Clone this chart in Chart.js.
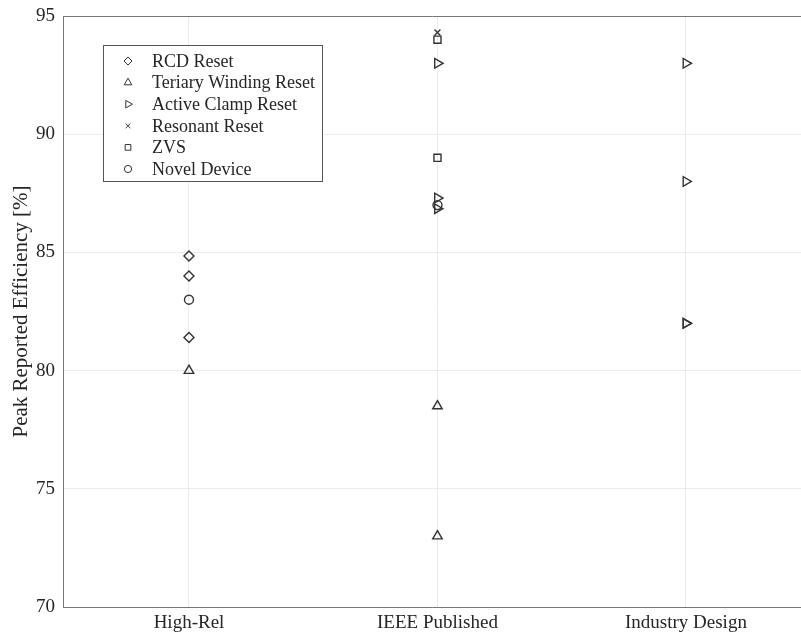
<!DOCTYPE html>
<html>
<head>
<meta charset="utf-8">
<script src="https://cdn.jsdelivr.net/npm/chart.js@4.4.1/dist/chart.umd.min.js"></script>
<style>
  html, body { margin: 0; padding: 0; background: #fff; overflow: hidden; }
  #wrap { width: 801px; height: 635px; position: relative; }
</style>
</head>
<body>
<div id="wrap"><canvas id="efficiencyChart"></canvas></div>
<script>
// categories on the x axis
const categories = ['High-Rel', 'IEEE Published', 'Industry Design'];
const yTicks = [70, 75, 80, 85, 90, 95];

// values per category: [High-Rel], [IEEE Published], [Industry Design]
const rcdReset = [[84.85, 84.0, 81.4], [], []];
const tertiaryReset = [[80.0], [78.5, 73.0], []];
const activeClampReset = [[], [93.0, 87.3, 86.85], [93.0, 88.0, 82.0, 82.0]];
const resonantReset = [[], [94.3], []];
const zvsReset = [[], [94.0, 89.0], []];
const novelDevice = [[83.0], [87.0], []];

const seriesLabels = ['RCD Reset', 'Teriary Winding Reset', 'Active Clamp Reset', 'Resonant Reset', 'ZVS', 'Novel Device'];

const serifFont = "'Liberation Serif', 'Times New Roman', serif";
const textColor = '#262626';
const markerColor = '#333333';

function toPoints(values) {
    return values.flatMap((list, i) => list.map(v => ({ x: i + 1, y: v })));
}

const markers = [
    { pointStyle: 'rectRot', rotation: 0, radius: 5 },
    { pointStyle: 'triangle', rotation: 0, radius: 5.5 },
    { pointStyle: 'triangle', rotation: 90, radius: 5.5 },
    { pointStyle: 'crossRot', rotation: 0, radius: 4.2 },
    { pointStyle: 'rect', rotation: 0, radius: 5 },
    { pointStyle: 'circle', rotation: 0, radius: 4.5 }
];

const seriesValues = [rcdReset, tertiaryReset, activeClampReset, resonantReset, zvsReset, novelDevice];

const datasets = seriesValues.map((vals, i) => ({
    label: seriesLabels[i],
    data: toPoints(vals),
    pointStyle: markers[i].pointStyle,
    rotation: markers[i].rotation,
    pointRadius: markers[i].radius,
    pointHoverRadius: markers[i].radius,
    borderColor: markerColor,
    backgroundColor: 'rgba(0,0,0,0)',
    pointBorderWidth: 1.4,
    showLine: false
}));

//Legend drawn inside the plot box
const boxLegend = {
    id: 'boxLegend',
    afterDraw(chart) {
        const ctx = chart.ctx;
        const area = chart.chartArea;
        const bx = area.left + 40, by = area.top + 29, bw = 219, bh = 136;
        ctx.save();
        ctx.fillStyle = '#fff';
        ctx.fillRect(bx, by, bw, bh);
        ctx.strokeStyle = '#555';
        ctx.lineWidth = 1;
        ctx.strokeRect(bx + 0.5, by + 0.5, bw, bh);
        chart.data.datasets.forEach((ds, i) => {
            const y = by + 16 + i * 21.6;
            ctx.strokeStyle = markerColor;
            ctx.fillStyle = 'rgba(0,0,0,0)';
            Chart.helpers.drawPoint(ctx, {
                pointStyle: ds.pointStyle,
                rotation: ds.rotation,
                radius: ds.pointRadius * 0.8,
                borderWidth: 1.4
            }, bx + 25, y);
            ctx.fillStyle = textColor;
            ctx.font = '18px ' + serifFont;
            ctx.textBaseline = 'middle';
            ctx.textAlign = 'left';
            ctx.fillText(ds.label, bx + 49, y + 1);
        });
        ctx.restore();
    }
};

const efficiencyChart = new Chart(document.getElementById('efficiencyChart'), {
    type: 'scatter',
    data: { datasets: datasets },
    options: {
        responsive: true,
        maintainAspectRatio: false,
        animation: false,
        layout: { autoPadding: false, padding: { top: 16, right: 0, left: 0, bottom: 0 } },
        plugins: {
            legend: { display: false },
            tooltip: { enabled: false }
        },
        scales: {
            x: {
                type: 'linear',
                min: 0.493,
                max: 3.463,
                afterBuildTicks: scale => { scale.ticks = categories.map((c, i) => ({ value: i + 1 })); },
                afterFit: scale => { scale.height = 28; scale.paddingLeft = 0; scale.paddingRight = 0; },
                grid: { color: '#ebebeb', drawTicks: false },
                border: { color: '#777', width: 1 },
                ticks: {
                    padding: 5,
                    color: textColor,
                    font: { family: serifFont, size: 19 },
                    callback: value => categories[value - 1]
                }
            },
            y: {
                min: 70,
                max: 95,
                afterBuildTicks: scale => { scale.ticks = yTicks.map(v => ({ value: v })); },
                afterFit: scale => { scale.width = 63; scale.paddingTop = 0; scale.paddingBottom = 0; },
                grid: {
                    color: ctx => (ctx.tick && ctx.tick.value === 95) ? '#777' : '#ebebeb',
                    drawTicks: false
                },
                border: { color: '#777', width: 1 },
                ticks: {
                    padding: 8,
                    color: textColor,
                    font: { family: serifFont, size: 19 }
                },
                title: {
                    display: true,
                    text: 'Peak Reported Efficiency [%]',
                    color: textColor,
                    font: { family: serifFont, size: 21 },
                    padding: { top: 9, bottom: 0 }
                }
            }
        }
    },
    plugins: [boxLegend]
});
</script>
</body>
</html>
